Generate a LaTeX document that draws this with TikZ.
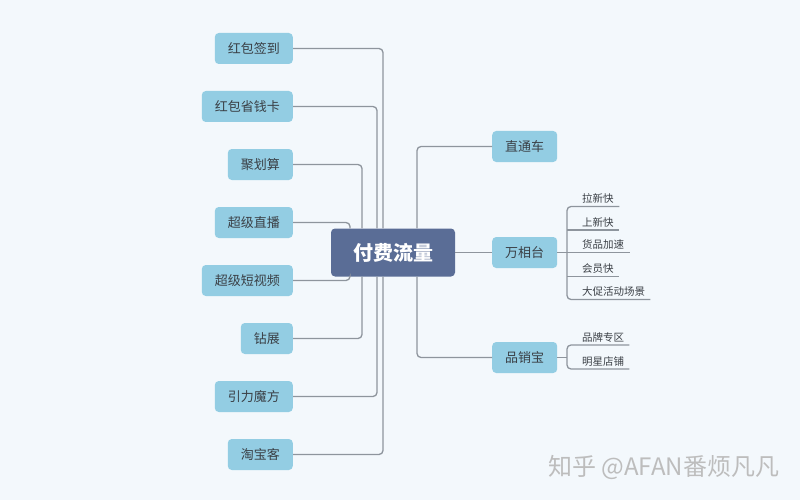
\documentclass[tikz,border=0pt]{standalone}
\usepackage{fontspec}
\setmainfont{Noto Sans CJK SC}
\definecolor{bgc}{HTML}{F3F8FC}
\definecolor{topicblue}{HTML}{93CDE3}
\definecolor{centerblue}{HTML}{5A6D96}
\definecolor{linegray}{HTML}{8E959D}
\definecolor{textdark}{HTML}{3A3F45}
\definecolor{wmgray}{HTML}{BDBDBD}
\begin{document}
\begin{tikzpicture}[x=1pt,y=-1pt,
  topic/.style={fill=topicblue, rounded corners=4pt, minimum height=31pt, inner xsep=13pt, inner ysep=0pt, text=textdark, font=\fontsize{13}{15}\selectfont},
  ltopic/.style={topic, anchor=east},
  rtopic/.style={topic, anchor=west, minimum width=65pt},
  centre/.style={fill=centerblue, rounded corners=4pt, minimum width=124pt, minimum height=48pt, text=white, font=\fontsize{20}{24}\selectfont\bfseries},
  sub/.style={anchor=south west, inner xsep=0pt, inner ysep=2.5pt, align=left, text=textdark, font=\fontsize{10.5}{12}\selectfont},
  conn/.style={draw=linegray, line width=1.3pt, rounded corners=4pt}]
\fill[bgc] (0,0) rectangle (800,500);
\useasboundingbox (0,0) rectangle (800,500);

\node[centre] (c) at (393,252.5) {付费流量};

\node[ltopic] (l1) at (293,48.5) {红包签到};
\node[ltopic] (l2) at (293,106.5) {红包省钱卡};
\node[ltopic] (l3) at (293,164.5) {聚划算};
\node[ltopic] (l4) at (293,222.5) {超级直播};
\node[ltopic] (l5) at (293,280.5) {超级短视频};
\node[ltopic] (l6) at (293,338.5) {钻展};
\node[ltopic] (l7) at (293,396.5) {引力魔方};
\node[ltopic] (l8) at (293,454.5) {淘宝客};

\draw[conn] (l1.east) -| ([xshift=-10pt]c.north);
\draw[conn] (l2.east) -| ([xshift=-16pt]c.north);
\draw[conn] (l3.east) -| ([xshift=-31pt]c.north);
\draw[conn] (l4.east) -| ([xshift=-43pt]c.north);
\draw[conn] (l5.east) -| ([xshift=-43pt]c.south);
\draw[conn] (l6.east) -| ([xshift=-31pt]c.south);
\draw[conn] (l7.east) -| ([xshift=-16pt]c.south);
\draw[conn] (l8.east) -| ([xshift=-10pt]c.south);

\node[rtopic] (r1) at (492,146.5) {直通车};
\node[rtopic] (r2) at (492,252.5) {万相台};
\node[rtopic] (r3) at (492,357.5) {品销宝};

\draw[conn] ([xshift=24pt]c.north) |- (r1.west);
\draw[conn] (c.east) -- (r2.west);
\draw[conn] ([xshift=24pt]c.south) |- (r3.west);

\node[sub, text width=52pt] (s1) at (567,206.5) {\hspace*{15pt}拉新快};
\node[sub, text width=52pt] (s2) at (567,230) {\hspace*{15pt}上新快};
\node[sub, text width=63pt] (s3) at (567,252.5) {\hspace*{15pt}货品加速};
\node[sub, text width=52pt] (s4) at (567,276.5) {\hspace*{15pt}会员快};
\node[sub, text width=83pt] (s5) at (567,299.5) {\hspace*{15pt}大促活动场景};

\draw[conn] (s1.south east) -- (s1.south west) |- (s5.south east);
\draw[conn] (s2.south west) -- (s2.south east);
\draw[conn] (r2.east) -- (s3.south east);
\draw[conn] (s4.south west) -- (s4.south east);

\node[sub, text width=62pt] (p1) at (567,345) {\hspace*{15pt}品牌专区};
\node[sub, text width=62pt] (p2) at (567,369) {\hspace*{15pt}明星店铺};

\draw[conn] (p1.south east) -- (p1.south west) |- (p2.south east);
\draw[conn] (r3.east) -- (r3.east -| p1.south west);

\node[anchor=west, inner sep=0pt, text=wmgray, font=\fontsize{24}{27}\selectfont] (wm) at (548,467) {知乎 @AFAN番烦凡凡};
\end{tikzpicture}
\end{document}
